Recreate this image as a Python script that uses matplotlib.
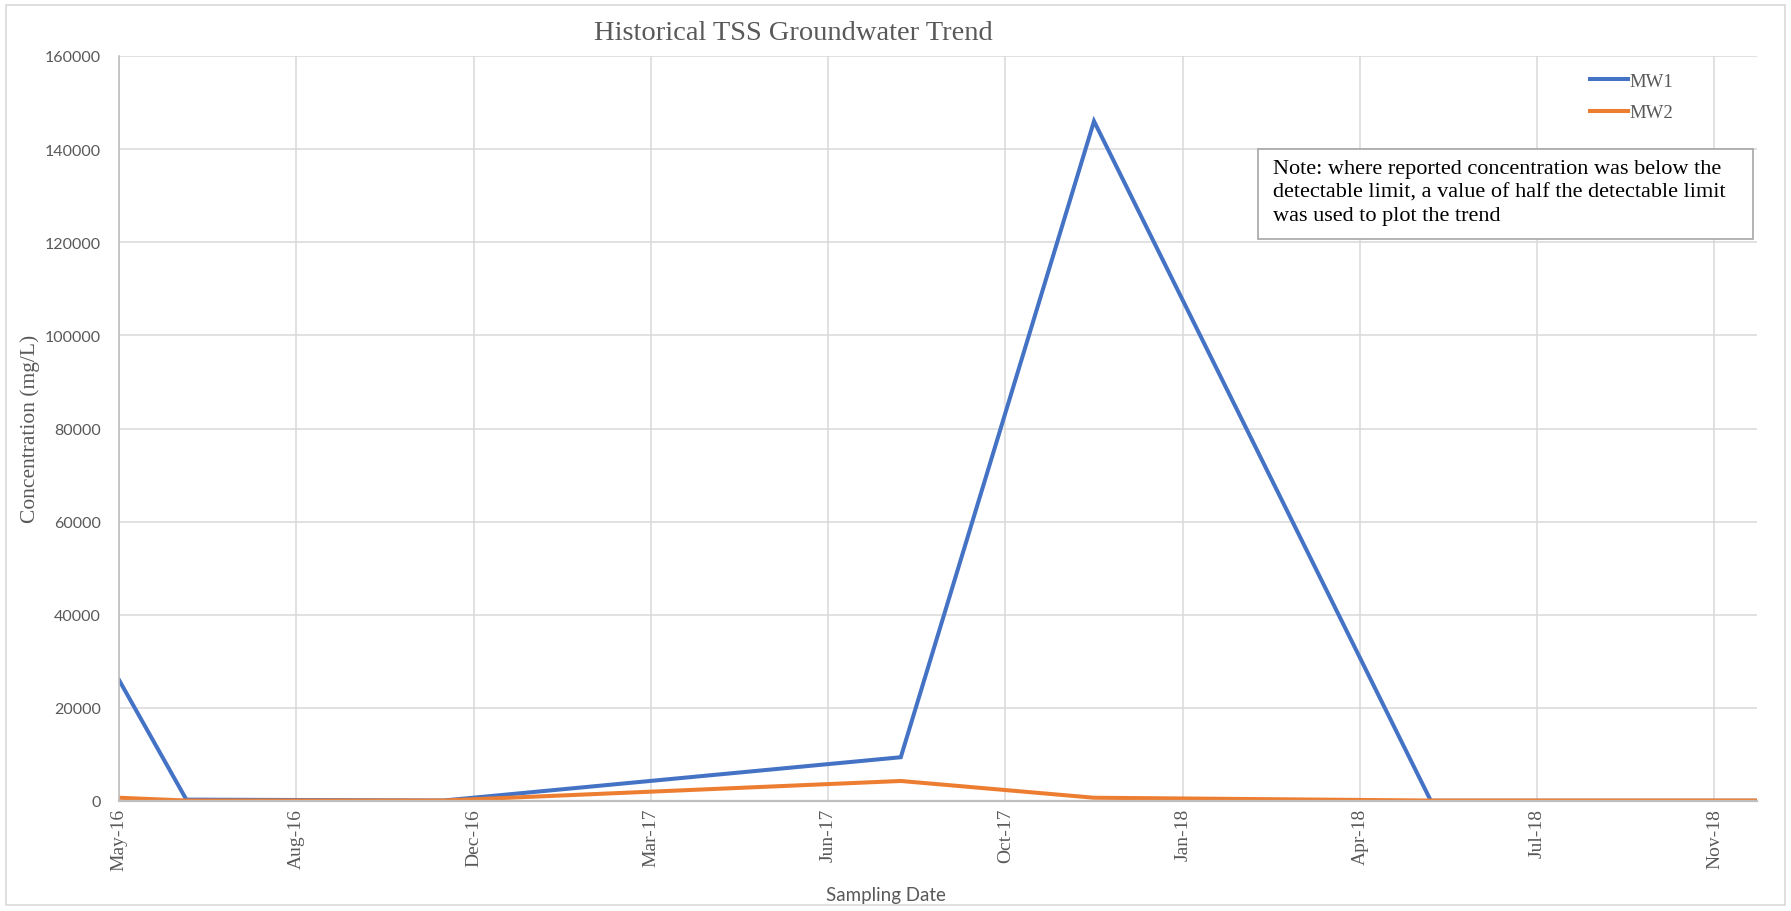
import datetime as dt
import matplotlib
matplotlib.use("Agg")
import matplotlib.pyplot as plt
import matplotlib.dates as mdates

# sampling dates and TSS concentrations (mg/L)
dates = [dt.date(2016, 5, 20), dt.date(2016, 6, 27), dt.date(2016, 11, 19),
         dt.date(2017, 8, 4), dt.date(2017, 11, 21), dt.date(2018, 5, 30),
         dt.date(2018, 11, 30)]
mw1 = [26000, 300, 100, 9400, 146000, 50, 50]
mw2 = [700, 100, 100, 4300, 700, 100, 100]

y_ticks = [0, 20000, 40000, 60000, 80000, 100000, 120000, 140000, 160000]
tick_step_days = 100

note = ("Note: where reported concentration was below the\n"
        "detectable limit, a value of half the detectable limit\n"
        "was used to plot the trend")

W, H = 1791, 912
fig = plt.figure(figsize=(W / 100, H / 100), dpi=100)
ax = fig.add_axes([119 / W, 1 - 802 / H, (1757 - 119) / W, (802 - 57) / H])

# outer chart border
fig.patches.append(plt.Rectangle((6 / W, 6 / H), 1 - 12 / W, 1 - 12 / H,
                                 transform=fig.transFigure, fill=False,
                                 edgecolor="#D9D9D9", linewidth=1.2))

ax.plot(dates, mw1, color="#4472C4", lw=2.9, label="MW1", solid_joinstyle="miter")
ax.plot(dates, mw2, color="#ED7D31", lw=2.9, label="MW2", solid_joinstyle="miter")

start = mdates.date2num(dates[0])
end = mdates.date2num(dates[-1])
ax.set_xlim(start, end)
ax.set_ylim(0, 160000)
ax.set_yticks(y_ticks)
ax.set_xticks([start + k * tick_step_days for k in range(10)])
ax.xaxis.set_major_formatter(mdates.DateFormatter("%b-%y"))

ax.grid(True, color="#D9D9D9", lw=1.1)
ax.set_axisbelow(True)
for s in ["top", "right"]:
    ax.spines[s].set_visible(False)
ax.spines["left"].set_color("#BFBFBF")
ax.spines["left"].set_linewidth(1.2)
ax.spines["bottom"].set_color("#BFBFBF")
ax.spines["bottom"].set_linewidth(1.6)
ax.tick_params(length=0)
ax.tick_params(axis="y", pad=13)
ax.tick_params(axis="x", pad=5)

for lab in ax.get_yticklabels():
    lab.set_fontfamily("Lato")
    lab.set_fontsize(11.5)
    lab.set_color("#595959")
for lab in ax.get_xticklabels():
    lab.set_fontfamily("Liberation Serif")
    lab.set_fontsize(14)
    lab.set_color("#595959")
    lab.set_rotation(90)

fig.text(793 / W, 1 - 33 / H, "Historical TSS Groundwater Trend",
         family="Liberation Serif", fontsize=20.5, color="#595959",
         ha="center", va="center")
fig.text(886 / W, 1 - 896 / H, "Sampling Date", family="Lato",
         fontsize=13.5, color="#595959", ha="center", va="center")
fig.text(30 / W, 1 - 429 / H, "Concentration (mg/L)", family="Liberation Serif",
         fontsize=15.5, color="#595959", ha="center", va="center", rotation=90)

leg = ax.legend(loc="upper right", bbox_to_anchor=(1690 / W, 1 - 57 / H),
                bbox_transform=fig.transFigure, frameon=False,
                prop={"family": "Liberation Serif", "size": 13.5},
                handlelength=2.0, handletextpad=0.1, labelspacing=0.75)
for t in leg.get_texts():
    t.set_color("#595959")

fig.text(1273 / W, 1 - 160 / H, note, family="Liberation Serif", fontsize=16,
         color="black", ha="left", va="top", linespacing=1.33)
fig.patches.append(plt.Rectangle((1258 / W, 1 - 240 / H), 495 / W, 90 / H,
                                 transform=fig.transFigure, facecolor="white",
                                 edgecolor="#A6A6A6", linewidth=1.2, zorder=0.5))

fig.savefig("out.png", dpi=100)
